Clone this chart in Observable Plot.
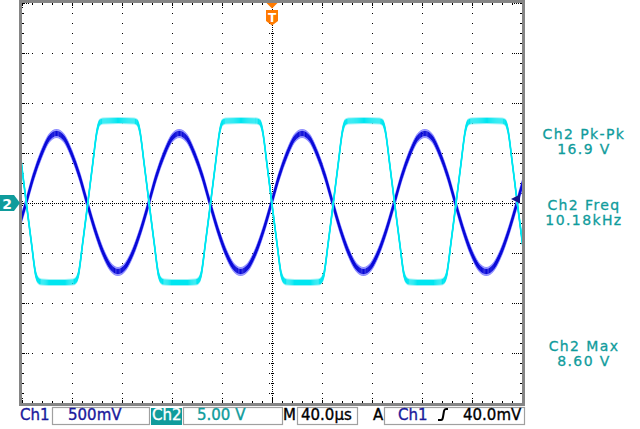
<!DOCTYPE html>
<html><head><meta charset="utf-8">
<script src="https://cdn.jsdelivr.net/npm/d3@7"></script>
<script src="https://cdn.jsdelivr.net/npm/@observablehq/plot@0.6"></script>
<style>body{margin:0;background:#fff;} svg{display:block}</style>
</head><body>
<div id="chart"></div>
<script>
// ---- data (time in µs, volts) ----
const ch1Time = [-203.4,-197.3,-191.2,-185.0,-178.9,-172.8,-166.6,-160.5,-154.3,-148.2,-142.1,-135.9,-129.8,-123.7,-117.5,-111.4,-105.2,-99.1,-93.0,-86.8,-80.7,-74.6,-68.4,-62.3,-56.1,-50.0,-43.9,-37.7,-31.6,-25.5,-19.3,-13.2,-7.0,-0.9,5.2,11.4,17.5,23.7,29.8,35.9,42.1,48.2,54.3,60.5,66.6,72.8,78.9,85.0,91.2,97.3,103.4,109.6,115.7,121.9,128.0,134.1,140.3,146.4,152.5,158.7,164.8,171.0,177.1,183.2,189.4,195.5,201.6];
const ch1Volts = [-0.26,
  0,0.27,0.49,0.65,0.70,0.65,0.49,0.27,0,-0.26,-0.48,-0.63,-0.68,-0.63,-0.48,-0.26,
  0,0.27,0.49,0.65,0.70,0.65,0.49,0.27,0,-0.26,-0.48,-0.63,-0.68,-0.63,-0.48,-0.26,
  0,0.27,0.49,0.65,0.70,0.65,0.49,0.27,0,-0.26,-0.48,-0.63,-0.68,-0.63,-0.48,-0.26,
  0,0.27,0.49,0.65,0.70,0.65,0.49,0.27,0,-0.26,-0.48,-0.63,-0.68,-0.63,-0.48,-0.26,
  0,0.27];
const ch2Time = [-212,-208.9,-206.4,-204.4,-200.9,-196.9,-192.9,-189.4,-187.4,-184.9,-172.4,
  -159.8,-157.3,-155.3,-151.8,-147.8,-143.8,-140.3,-138.3,-135.8,-123.3,
  -110.7,-108.2,-106.2,-102.7,-98.7,-94.7,-91.2,-89.2,-86.7,-74.2,
  -61.6,-59.1,-57.1,-53.6,-49.6,-45.6,-42.1,-40.1,-37.6,-25.1,
  -12.5,-10.0,-8.0,-4.5,-0.5,3.5,7.0,9.0,11.5,24.0,
  36.6,39.1,41.1,44.6,48.6,52.6,56.1,58.1,60.6,73.1,
  85.7,88.2,90.2,93.7,97.7,101.7,105.2,107.2,109.7,122.2,
  134.8,137.3,139.3,142.8,146.8,150.8,154.3,156.3,158.8,171.3,
  183.9,186.4,188.4,191.9,195.9,199.9,203.4,205.4,207.9];
const ch2Volts = [8.3,8.25,8.1,7.3,4.0,0,-3.9,-7.1,-7.7,-7.85,-7.9,
  -7.85,-7.7,-7.1,-3.9,0,4.0,7.3,8.1,8.25,8.3,
  8.25,8.1,7.3,4.0,0,-3.9,-7.1,-7.7,-7.85,-7.9,
  -7.85,-7.7,-7.1,-3.9,0,4.0,7.3,8.1,8.25,8.3,
  8.25,8.1,7.3,4.0,0,-3.9,-7.1,-7.7,-7.85,-7.9,
  -7.85,-7.7,-7.1,-3.9,0,4.0,7.3,8.1,8.25,8.3,
  8.25,8.1,7.3,4.0,0,-3.9,-7.1,-7.7,-7.85,-7.9,
  -7.85,-7.7,-7.1,-3.9,0,4.0,7.3,8.1,8.25,8.3,
  8.25,8.1,7.3,4.0,0,-3.9,-7.1,-7.7,-7.85];
const ch1VoltsPerDiv = 0.5;
const ch2VoltsPerDiv = 5;
const usPerDiv = 40;
const triggerLevel = 0.04; // V on Ch1
const measureNames = ["Ch2 Pk-Pk", "Ch2 Freq", "Ch2 Max"];
const measureValues = ["16.9 V", "10.18kHz", "8.60 V"];
const ch1Scale = "500mV";
const ch2Scale = "5.00 V";
const timeScale = "40.0µs";
const triggerText = "40.0mV";

// ---- styling ----
const TEAL = "#109c9c", NAVY = "#1a1a9c", ORANGE = "#ff7a00";
const BLUE = "#0a0ad8", BLUE_HALO = "#8c8cff";
const CYAN = "#00e6f0", CYAN_HALO = "#9ef3f7";

const ch1 = ch1Time.map((t, i) => ({t, y: ch1Volts[i] / ch1VoltsPerDiv}));
const ch2 = ch2Time.map((t, i) => ({t, y: ch2Volts[i] / ch2VoltsPerDiv}));

const half = 5 * usPerDiv;
const minorX = d3.range(-half, half + 0.001, usPerDiv / 5);
const minorY = d3.range(-4, 4.001, 0.2);
const majorX = d3.range(-half + usPerDiv, half - 0.001, usPerDiv).filter(x => Math.abs(x) > 1e-6);
const majorY = d3.range(-3, 3.001, 1).filter(y => Math.abs(y) > 1e-6);
const majorXall = d3.range(-half, half + 0.001, usPerDiv);
const majorYall = d3.range(-4, 4.001, 1);
const pxX = usPerDiv / 50; // µs per pixel
const pxY = 1 / 50;        // div per pixel

function trace(data, core, halo, coreDy, haloDy, w) {
  return [
    ...haloDy.map(dy => Plot.line(data, {x: "t", y: "y", stroke: halo, strokeWidth: w, dy, curve: "monotone-x", clip: true})),
    ...coreDy.map(dy => Plot.line(data, {x: "t", y: "y", stroke: core, strokeWidth: w, dy, curve: "monotone-x", clip: true}))
  ];
}

const chart = Plot.plot({
  width: 640, height: 429,
  marginLeft: 22, marginRight: 118, marginTop: 3, marginBottom: 26,
  x: {domain: [-half, half], axis: null},
  y: {domain: [-4, 4], axis: null},
  style: {fontFamily: "DejaVu Sans", background: "white"},
  marks: [
    // dotted graticule
    Plot.ruleX(majorX, {stroke: "#000", strokeDasharray: "1,9"}),
    Plot.ruleY(majorY, {stroke: "#000", strokeDasharray: "1,9"}),
    Plot.ruleX([0], {stroke: "#000", strokeDasharray: "1,1"}),
    Plot.ruleY([0], {stroke: "#000", strokeDasharray: "1,1"}),
    Plot.ruleX(minorX, {y1: -3 * pxY, y2: 3 * pxY, stroke: "#000", strokeDasharray: "1,1"}),
    Plot.ruleY(minorY, {x1: -3 * pxX, x2: 3 * pxX, stroke: "#000", strokeDasharray: "1,1"}),
    // edge ticks
    Plot.ruleX(minorX, {y1: 4, y2: 4 - 2 * pxY, stroke: "#000"}),
    Plot.ruleX(minorX, {y1: -4, y2: -4 + 2 * pxY, stroke: "#000"}),
    Plot.ruleY(minorY, {x1: -half, x2: -half + 2 * pxX, stroke: "#000"}),
    Plot.ruleY(minorY, {x1: half - 2 * pxX, x2: half, stroke: "#000"}),
    Plot.ruleX(majorXall, {y1: 4, y2: 4 - 6 * pxY, stroke: "#000", strokeDasharray: "1,1"}),
    Plot.ruleX(majorXall, {y1: -4, y2: -4 + 6 * pxY, stroke: "#000", strokeDasharray: "1,1"}),
    Plot.ruleY(majorYall, {x1: -half, x2: -half + 8 * pxX, stroke: "#000", strokeDasharray: "1,1"}),
    Plot.ruleY(majorYall, {x1: half - 8 * pxX, x2: half, stroke: "#000", strokeDasharray: "1,1"}),
    // traces
    ...trace(ch1, BLUE, BLUE_HALO, [-2, -1, 0, 1, 2], [-4, -3, 3, 4], 1.2),
    ...trace(ch2, CYAN, CYAN_HALO, [-2, -1, 0, 1, 2], [-3, 3], 1.1)
  ]
});
document.getElementById("chart").appendChild(chart);

// ---- instrument annotations ----
const svg = d3.select(chart);
const g = svg.append("g").attr("font-family", "DejaVu Sans").attr("text-anchor", "start");

// frame border
g.append("rect").attr("x", 20.5).attr("y", 1.5).attr("width", 503).attr("height", 403)
  .attr("fill", "none").attr("stroke", "#858585").attr("stroke-width", 3);

// channel 2 ground marker
g.append("path").attr("d", "M0,195 H14 L20,203 L14,211 H0 Z").attr("fill", TEAL);
g.append("text").attr("x", 7).attr("y", 209).attr("text-anchor", "middle")
  .attr("font-size", 14).attr("font-weight", "bold").attr("fill", "#fff").text("2");

// trigger position marker
g.append("path").attr("d", "M266.5,3 L277.5,3 L272,8.5 Z").attr("fill", ORANGE);
g.append("path").attr("d", "M266,10 H278 V21 L272,25.5 L266,21 Z").attr("fill", ORANGE);
g.append("text").attr("x", 272).attr("y", 22).attr("text-anchor", "middle")
  .attr("font-size", 12).attr("font-weight", "bold").attr("fill", "#fff").text("T");

// trigger level marker (right edge)
const yPx = v => 203 - (v / ch1VoltsPerDiv) * 50;
g.append("path").attr("d", `M511,${yPx(triggerLevel)} L520,${yPx(triggerLevel) - 4.5} L520,${yPx(triggerLevel) + 4.5} Z`).attr("fill", "#14148c");

// measurements on the right
const baselines = [[139, 154], [210, 225], [351, 366]];
measureNames.forEach((name, i) => {
  g.append("text").attr("x", 584).attr("y", baselines[i][0]).attr("text-anchor", "middle")
    .attr("font-size", 14).attr("letter-spacing", 1.4).attr("fill", TEAL)
    .attr("stroke", TEAL).attr("stroke-width", 0.3).text(name);
  g.append("text").attr("x", 584).attr("y", baselines[i][1]).attr("text-anchor", "middle")
    .attr("font-size", 14).attr("letter-spacing", 1.4).attr("fill", TEAL)
    .attr("stroke", TEAL).attr("stroke-width", 0.3).text(measureValues[i]);
});

// status bar
const box = (x0, x1) => g.append("rect").attr("x", x0 + 0.5).attr("y", 407.5).attr("width", x1 - x0).attr("height", 17)
  .attr("fill", "none").attr("stroke", "#a0a0a0").attr("stroke-width", 1.2);
const label = (x, text, fill) => g.append("text").attr("x", x).attr("y", 420).attr("font-size", 15)
  .attr("text-anchor", "start")
  .attr("fill", fill).attr("stroke", fill).attr("stroke-width", 0.35).text(text);
label(20, "Ch1", NAVY);
box(52, 149); label(68, ch1Scale, NAVY);
g.append("rect").attr("x", 151).attr("y", 408).attr("width", 31).attr("height", 17).attr("fill", TEAL);
label(152, "Ch2", "#fff");
box(183, 282); label(197, ch2Scale, TEAL);
label(283, "M", "#000");
box(297, 357); label(301, timeScale, "#000");
label(373, "A", "#000");
box(384, 524); label(398, "Ch1", NAVY);
g.append("path").attr("d", "M438,420 H441 Q442.5,420 443,417 L444,411 Q444.5,409 446,409 H448")
  .attr("fill", "none").attr("stroke", "#000").attr("stroke-width", 2);
label(463, triggerText, "#000");
</script>
</body></html>
